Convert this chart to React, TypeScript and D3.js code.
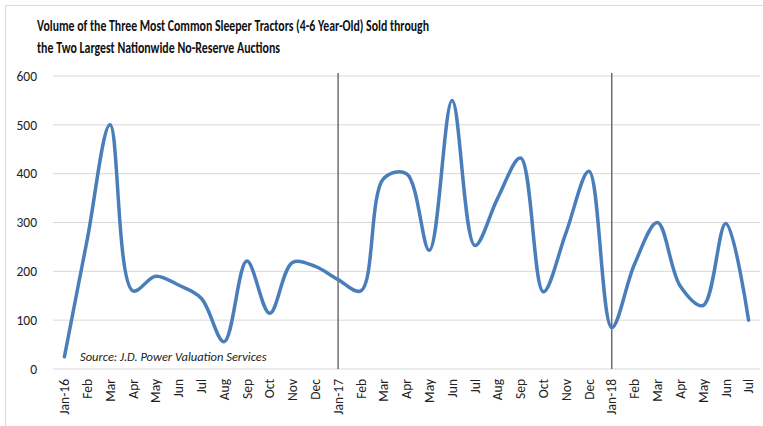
import * as d3 from 'd3'

const months = [
  'Jan-16', 'Feb', 'Mar', 'Apr', 'May', 'Jun', 'Jul', 'Aug', 'Sep', 'Oct', 'Nov', 'Dec',
  'Jan-17', 'Feb', 'Mar', 'Apr', 'May', 'Jun', 'Jul', 'Aug', 'Sep', 'Oct', 'Nov', 'Dec',
  'Jan-18', 'Feb', 'Mar', 'Apr', 'May', 'Jun', 'Jul',
]
const volumes = [
  25, 265, 500, 160, 190, 172, 145, 56, 221, 114, 218, 210,
  183, 160, 390, 400, 243, 550, 253, 350, 432, 158, 280, 405,
  85, 215, 300, 170, 130, 298, 100,
]
const yTicks = [0, 100, 200, 300, 400, 500, 600]
const yearMarks = [12, 24]
const titleLines = [
  'Volume of the Three Most Common Sleeper Tractors (4-6 Year-Old) Sold through',
  'the Two Largest Nationwide No-Reserve Auctions',
]

const W = 763
const H = 426
const font = 'Carlito, Calibri, "Open Sans", sans-serif'

export default function App() {
  const left = 53
  const right = 760
  const top = 76
  const bottom = 369

  const x = d3
    .scaleBand<number>()
    .domain(months.map((_, i) => i))
    .range([left, right])
  const cx = (i: number) => (x(i) as number) + x.bandwidth() / 2

  const y = d3.scaleLinear().domain([0, 600]).range([bottom, top])

  // Excel-style smoothed line
  const line = d3
    .line<number>()
    .x((_, i) => cx(i))
    .y((d) => y(d))
    .curve(d3.curveCatmullRom.alpha(0.5))

  return (
    <div style={{ position: 'absolute', left: 0, top: 0 }}>
      <svg width={W} height={H} style={{ display: 'block', background: '#fff' }}>
        {/* chart border */}
        <rect x={5.5} y={5.5} width={W} height={H} fill="none" stroke="#d9d9d9" />

        {/* title */}
        {titleLines.map((t, i) => (
          <text
            key={i}
            x={37}
            y={31 + i * 22}
            fontFamily={font}
            fontWeight="bold"
            fontSize={15.5}
            fill="#111"
            textLength={i === 0 ? 392 : 243}
            lengthAdjust="spacingAndGlyphs"
          >
            {t}
          </text>
        ))}

        {/* grid */}
        {yTicks.map((t) => (
          <g key={t}>
            <line x1={left} x2={right} y1={y(t)} y2={y(t)} stroke="#d9d9d9" strokeWidth={1} />
            <text
              x={37}
              y={y(t)}
              dy="0.35em"
              textAnchor="end"
              fontFamily={font}
              fontSize={13.5}
              fill="#222"
            >
              {t}
            </text>
          </g>
        ))}

        {/* x labels */}
        {months.map((m, i) => (
          <text
            key={i}
            transform={`translate(${cx(i)},${bottom + 10}) rotate(-90)`}
            dy="0.35em"
            textAnchor="end"
            fontFamily={font}
            fontSize={13.5}
            fill="#222"
          >
            {m}
          </text>
        ))}

        {/* year separators */}
        {yearMarks.map((i) => (
          <line
            key={i}
            x1={cx(i)}
            x2={cx(i)}
            y1={73}
            y2={bottom}
            stroke="#595959"
            strokeWidth={1.3}
          />
        ))}

        {/* series */}
        <path d={line(volumes) || ''} fill="none" stroke="#4a7ebb" strokeWidth={3.5} strokeLinecap="round" />

        <text x={80} y={361} fontFamily={font} fontStyle="italic" fontSize={12.5} fill="#222">
          Source: J.D. Power Valuation Services
        </text>
      </svg>
    </div>
  )
}
